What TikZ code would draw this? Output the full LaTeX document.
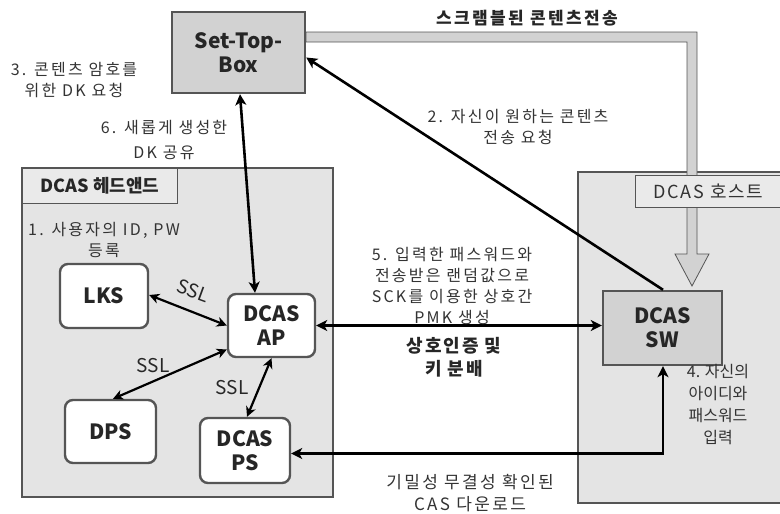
\documentclass[tikz,border=0pt]{standalone}
\usepackage{fontspec}
\setmainfont{Noto Sans CJK KR}
\newfontfamily\krsp[LetterSpace=14]{Noto Sans CJK KR}
\newfontfamily\krspb[LetterSpace=10]{Noto Sans CJK KR}
\usetikzlibrary{arrows.meta}
\definecolor{bordergray}{HTML}{555555}
\definecolor{groupfill}{HTML}{E4E4E4}
\definecolor{boxfill}{HTML}{D2D2D2}
\definecolor{lblfill}{HTML}{EAEAEA}
\tikzset{
  group/.style={draw=bordergray, line width=2pt, fill=groupfill},
  grouplbl/.style={draw=bordergray, line width=1pt, fill=lblfill, inner sep=0pt, anchor=north west, font=\fontsize{18}{20}\selectfont\bfseries, text=black!85},
  rbox/.style={draw=bordergray, line width=2.4pt, fill=white, rounded corners=8pt, inner sep=0pt, align=center, font=\fontsize{21}{24}\selectfont\bfseries, text=black!85},
  gbox/.style={draw=bordergray, line width=2.4pt, fill=boxfill, inner sep=0pt, align=center, font=\fontsize{21}{24}\selectfont\bfseries, text=black!85},
  lbl/.style={align=center, inner sep=0pt, font=\krsp\fontsize{16}{21}\selectfont, text=black!80},
  blbl/.style={align=center, inner sep=0pt, font=\krspb\fontsize{18}{23}\selectfont\bfseries, text=black!85},
  ssl/.style={inner sep=0pt, font=\fontsize{19}{20}\selectfont, text=black!85},
  conn/.style={line width=2.6pt, black, {Stealth[length=11pt,width=11pt,inset=3pt]}-{Stealth[length=11pt,width=11pt,inset=3pt]}},
  connend/.style={line width=2.6pt, black, -{Stealth[length=11pt,width=11pt,inset=3pt]}},
  sslconn/.style={line width=2.2pt, black, {Stealth[length=10pt,width=10pt,inset=3pt]}-{Stealth[length=10pt,width=10pt,inset=3pt]}},
  hollow/.style={draw=bordergray, line width=0.8pt, fill=boxfill}
}
\begin{document}
\begin{tikzpicture}[x=1pt,y=-1pt]
\useasboundingbox (0,0) rectangle (780,514);
% groups
\draw[group] (22,168) rectangle (333,497);
\draw[group] (578,172) rectangle (790,503);
% hollow scrambled-content arrow
\draw[hollow] (306,32) -- (697,32) -- (697,254) -- (709,254) -- (692,286) -- (675,254) -- (687,254) -- (687,42) -- (306,42) -- cycle;
% group labels
\node[grouplbl, minimum width=155pt, minimum height=35pt] (headlbl) at (22,168) {DCAS 헤드앤드};
\node[grouplbl, minimum width=160pt, minimum height=32pt, font=\krspb\fontsize{18}{20}\selectfont, text=black!80] (hostlbl) at (635,175) {\hspace*{-14pt}DCAS 호스트};
% boxes
\node[gbox, minimum width=133pt, minimum height=81pt] (stb) at (238.5,52.5) {Set-Top-\\Box};
\node[rbox, minimum width=88pt, minimum height=64pt] (lks) at (104,296) {LKS};
\node[rbox, minimum width=87pt, minimum height=63pt] (ap) at (271.5,325.5) {DCAS\\AP};
\node[rbox, minimum width=91pt, minimum height=63pt] (dps) at (110.5,431.5) {DPS};
\node[rbox, minimum width=90pt, minimum height=65pt] (ps) at (245,450.5) {DCAS\\PS};
\node[gbox, minimum width=119pt, minimum height=74pt] (sw) at (662.5,328) {DCAS\\SW};
% connectors
\draw[conn] ([xshift=1.5pt]stb.south) -- ([xshift=-16.5pt]ap.north);
\draw[connend] ([xshift=0.5pt]sw.north) -- ([yshift=-5pt]stb.east);
\draw[sslconn] ([yshift=1pt]lks.east) -- (ap.west);
\draw[sslconn] ([yshift=-24pt]ap.west) -- ([xshift=2.5pt]dps.north);
\draw[sslconn] (ap.south) -- ([xshift=2pt]ps.north);
\draw[conn] (ap.east) -- (ap.east -| sw.west);
\draw[conn] ([yshift=-3pt]ps.east) -| ([xshift=0.5pt]sw.south);
% labels
\node[blbl, font=\krsp\fontsize{17}{20}\selectfont\bfseries] (scr) at (527,18) {스크램블된 콘텐츠전송};
\node[lbl] (t3) at (74,80) {3. 콘텐츠 암호를\\위한 DK 요청};
\node[lbl, font=\krsp\fontsize{16}{25}\selectfont] (t6) at (164,140) {6. 새롭게 생성한\\DK 공유};
\node[lbl] (t2) at (518,127) {2. 자신이 원하는 콘텐츠\\전송 요청};
\node[lbl] (t1) at (104,240) {1. 사용자의 ID, PW\\등록};
\node[lbl] (t5) at (452,286) {5. 입력한 패스워드와\\전송받은 랜덤값으로\\SCK를 이용한 상호간\\PMK 생성};
\node[blbl] (tk) at (454,357) {상호인증 및\\키 분배};
\node[lbl, font=\krsp\fontsize{17}{22}\selectfont] (tc) at (470,493) {기밀성 무결성 확인된\\CAS 다운로드};
\node[lbl, font=\fontsize{16}{22}\selectfont] (t4) at (718,405) {4. 자신의\\아이디와\\패스워드\\입력};
\node[ssl, rotate=-20] (s1) at (193,291) {SSL};
\node[ssl] (s2) at (153,366) {SSL};
\node[ssl] (s3) at (232,388) {SSL};
\end{tikzpicture}
\end{document}
